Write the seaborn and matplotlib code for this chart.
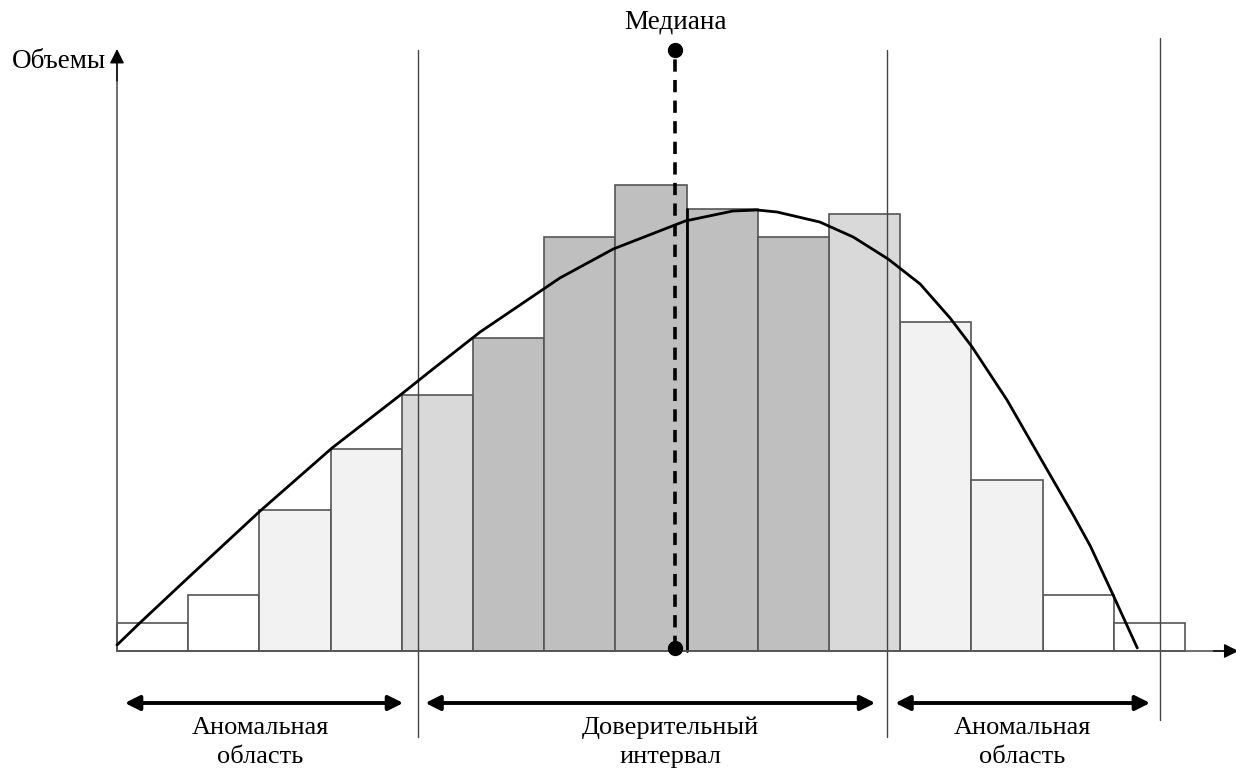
import numpy as np
import pandas as pd
import seaborn as sns
import matplotlib.pyplot as plt

# histogram bars (volume per interval)
bins = list(range(15))
heights = [2.8, 5.6, 14.1, 20.2, 25.6, 31.3, 41.4, 46.6, 44.2, 41.4, 43.7, 32.9, 17.1, 5.6, 2.8]
shade = ['white', 'white', 'light', 'light', 'mid', 'dark', 'dark', 'dark', 'dark', 'dark',
         'mid', 'light', 'light', 'white', 'white']
shade_colors = {'white': '#ffffff', 'light': '#f2f2f2', 'mid': '#d9d9d9', 'dark': '#bfbfbf'}

# fitted curve, points
curve_x = [-0.5, -0.18, 0.48, 1.51, 2.52, 3.48, 3.92, 4.60, 5.72, 6.47, 7.48, 8.15, 8.49,
           8.77, 9.37, 9.84, 10.33, 10.78, 11.20, 11.51, 12.00, 12.46, 12.93, 13.17,
           13.49, 13.83]
curve_y = [0.6, 2.8, 7.2, 14.0, 20.3, 25.6, 28.1, 31.9, 37.3, 40.2, 43.0, 44.0, 44.1,
           43.9, 42.9, 41.4, 39.2, 36.7, 33.3, 30.4, 25.1, 19.4, 13.6, 10.5,
           5.6, 0.3]

median_x = 7.34
bounds = [3.73, 10.32, 14.15]

sns.set_style('white')
plt.rcParams['font.family'] = ['Liberation Serif', 'DejaVu Serif']
plt.rcParams['text.color'] = 'black'

df = pd.DataFrame({'bin': bins, 'h': heights, 'shade': shade})

fig = plt.figure(figsize=(12.36, 7.71), dpi=100)
ax = fig.add_axes([0, 0, 1, 1])
sns.barplot(data=df, x='bin', y='h', hue='shade', palette=shade_colors, width=1,
            dodge=False, edgecolor='#555555', linewidth=1.2, legend=False, ax=ax, zorder=2)

# thick edge at the median bar
ax.plot([7.5, 7.5], [0, heights[8]], color='black', lw=2, zorder=3)

# curve
sns.lineplot(x=curve_x, y=curve_y, color='black', lw=2, sort=False, ax=ax, zorder=5)

# boundary lines of the regions
ax.plot([bounds[0]] * 2, [-8.6, 60.1], color='#444444', lw=1, zorder=4)
ax.plot([bounds[1]] * 2, [-8.6, 60.1], color='#444444', lw=1, zorder=4)
ax.plot([bounds[2]] * 2, [-6.9, 61.3], color='#444444', lw=1, zorder=4)

# axes with arrows
ax.plot([-0.5, -0.5], [0, 59], color='#555555', lw=1.2, zorder=4)
ax.plot([-0.5, 15.1], [0, 0], color='#555555', lw=1.2, zorder=4)
ax.annotate('', xy=(-0.5, 60.2), xytext=(-0.5, 57),
            arrowprops=dict(arrowstyle='-|>', color='black', lw=1, mutation_scale=22,
                            shrinkA=0, shrinkB=0), zorder=4)
ax.annotate('', xy=(15.25, 0), xytext=(14.9, 0), annotation_clip=False,
            arrowprops=dict(arrowstyle='-|>', color='black', lw=1, mutation_scale=22,
                            shrinkA=0, shrinkB=0), zorder=4)

# median
ax.plot([median_x, median_x], [0.3, 60.1], color='black', lw=2.6, dashes=(3.4, 2.3), zorder=6)
ax.plot([median_x, median_x], [0.3, 60.1], 'o', color='black', ms=10, zorder=7)
ax.text(median_x, 62.9, 'Медиана', ha='center', va='center', fontsize=19.5)
ax.text(-0.65, 58.9, 'Объемы', ha='right', va='center', fontsize=19.5)

# region arrows
arr = dict(arrowstyle='<|-|>', color='black', lw=2.8, mutation_scale=22, shrinkA=0, shrinkB=0)
for x0, x1 in [(-0.39, 3.52), (3.83, 10.15), (10.43, 14.01)]:
    ax.annotate('', xy=(x1, -5.2), xytext=(x0, -5.2), arrowprops=arr)

ax.text(1.51, -7.7, 'Аномальная', ha='center', va='center', fontsize=19)
ax.text(1.51, -10.6, 'область', ha='center', va='center', fontsize=19)
ax.text(7.27, -7.7, 'Доверительный', ha='center', va='center', fontsize=19)
ax.text(7.27, -10.6, 'интервал', ha='center', va='center', fontsize=19)
ax.text(12.21, -7.7, 'Аномальная', ha='center', va='center', fontsize=19)
ax.text(12.21, -10.6, 'область', ha='center', va='center', fontsize=19)

ax.set_xlim(-2.143, 15.216)
ax.set_ylim(-12.0, 65.1)
ax.axis('off')

fig.savefig('out.png', dpi=100)
